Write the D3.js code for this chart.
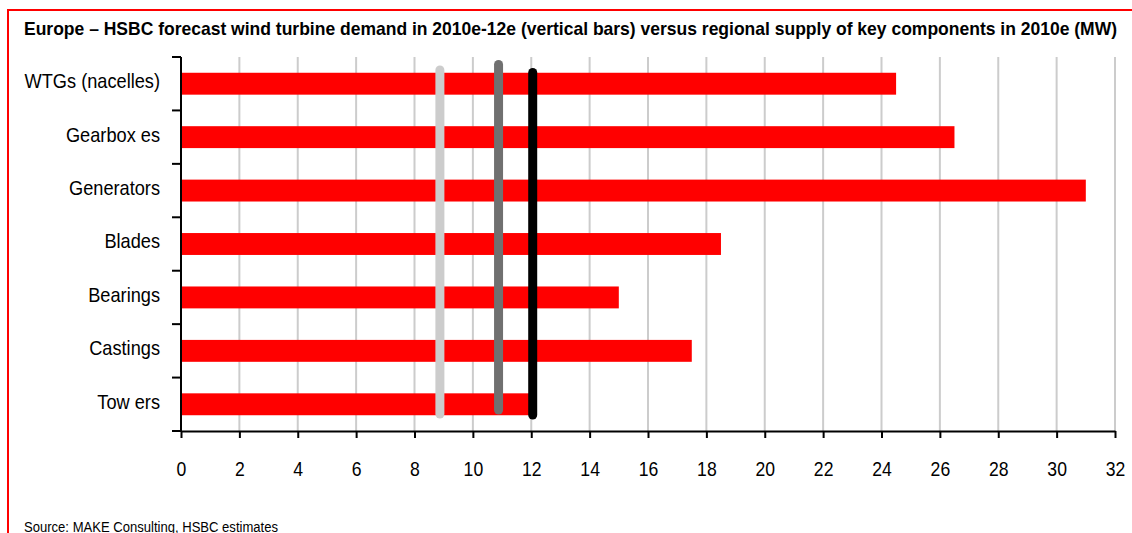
<!DOCTYPE html>
<html>
<head>
<meta charset="utf-8">
<script src="https://cdn.jsdelivr.net/npm/d3@7"></script>
<style>
  html, body { margin: 0; padding: 0; background: #fff; }
  svg { display: block; font-family: "Liberation Sans", Arial, sans-serif; }
</style>
</head>
<body>
<svg id="chart" width="1132" height="533"></svg>
<script>
// Regional supply of key components, 2010e (MW)
const categories = ["WTGs (nacelles)", "Gearbox es", "Generators", "Blades", "Bearings", "Castings", "Tow ers"];
const supply = [24.5, 26.5, 31, 18.5, 15, 17.5, 12];

// HSBC forecast wind turbine demand (vertical bars)
const demandYears = ["2010e", "2011e", "2012e"];
const demand = [8.87, 10.88, 12.05];
const demandColors = ["#cccccc", "#707070", "#000000"];

const xTicks = [0, 2, 4, 6, 8, 10, 12, 14, 16, 18, 20, 22, 24, 26, 28, 30, 32];

const titleText = "Europe \u2013 HSBC forecast wind turbine demand in 2010e-12e (vertical bars) versus regional supply of key components in 2010e (MW)";
const sourceText = "Source: MAKE Consulting, HSBC estimates";

const svg = d3.select("#chart");
const plot = { left: 181, right: 1115, top: 57, bottom: 431 };

// Frame
svg.append("rect")
  .attr("x", 8).attr("y", 10)
  .attr("width", 1140).attr("height", 560)
  .attr("fill", "none").attr("stroke", "#ff0000").attr("stroke-width", 2);

// Title
svg.append("text")
  .attr("x", 24).attr("y", 35)
  .attr("font-size", 18.5).attr("font-weight", "bold").attr("fill", "#000")
  .attr("textLength", 1093).attr("lengthAdjust", "spacingAndGlyphs")
  .text(titleText);

const x = d3.scaleLinear().domain([0, 32]).range([plot.left, plot.right]);
const y = d3.scaleBand().domain(categories).range([plot.top, plot.bottom]).paddingInner(0.59).paddingOuter(0.295);
const yStep = d3.scaleBand().domain(categories).range([plot.top, plot.bottom]);

// Gridlines
svg.append("g").selectAll("line")
  .data(xTicks.filter(d => d > 0))
  .join("line")
  .attr("x1", d => x(d)).attr("x2", d => x(d))
  .attr("y1", plot.top).attr("y2", plot.bottom)
  .attr("stroke", "#cccccc").attr("stroke-width", 2);

// Supply bars
svg.append("g").selectAll("rect")
  .data(categories)
  .join("rect")
  .attr("x", x(0))
  .attr("y", d => y(d))
  .attr("width", (d, i) => x(supply[i]) - x(0))
  .attr("height", y.bandwidth())
  .attr("fill", "#ff0000");

// Demand lines
const topOffsets = [13, 7.5, 15.5];
const bottomOffsets = [17, 21, 16];
svg.append("g").selectAll("line")
  .data(demand)
  .join("line")
  .attr("x1", d => x(d)).attr("x2", d => x(d))
  .attr("y1", (d, i) => plot.top + topOffsets[i])
  .attr("y2", (d, i) => plot.bottom - bottomOffsets[i])
  .attr("stroke", (d, i) => demandColors[i])
  .attr("stroke-width", 9)
  .attr("stroke-linecap", "round");

// X axis
const xAxis = svg.append("g")
  .attr("transform", `translate(0,${plot.bottom})`)
  .call(d3.axisBottom(x).tickValues(xTicks).tickFormat(d3.format("d")).tickSize(7).tickSizeOuter(0));
xAxis.select(".domain").attr("stroke", "#000").attr("stroke-width", 2);
xAxis.selectAll(".tick line").attr("stroke", "#000").attr("stroke-width", 2);
xAxis.selectAll(".tick text")
  .attr("y", 45).attr("dy", 0)
  .attr("font-size", 20).attr("fill", "#000")
  .attr("font-family", "Liberation Sans, Arial, sans-serif")
  .attr("transform", "scale(0.88,1)");

// Y axis: ticks on band boundaries, labels centered on bands
const yAxisG = svg.append("g").attr("transform", `translate(${plot.left},0)`);
yAxisG.append("line")
  .attr("x1", 0).attr("x2", 0).attr("y1", plot.top).attr("y2", plot.bottom)
  .attr("stroke", "#000").attr("stroke-width", 2);
const boundaries = categories.map(c => yStep(c)).concat([plot.bottom]);
yAxisG.selectAll("line.tk")
  .data(boundaries)
  .join("line").attr("class", "tk")
  .attr("x1", -9).attr("x2", 0)
  .attr("y1", d => d).attr("y2", d => d)
  .attr("stroke", "#000").attr("stroke-width", 2);
yAxisG.selectAll("text")
  .data(categories)
  .join("text")
  .attr("transform", d => `translate(-21,${y(d) + y.bandwidth() / 2}) scale(0.91,1)`)
  .attr("dy", "0.22em")
  .attr("text-anchor", "end")
  .attr("font-size", 20).attr("fill", "#000")
  .text(d => d);

// Source note
svg.append("text")
  .attr("x", 24).attr("y", 532)
  .attr("font-size", 14).attr("fill", "#000")
  .attr("textLength", 254).attr("lengthAdjust", "spacingAndGlyphs")
  .text(sourceText);
</script>
</body>
</html>
